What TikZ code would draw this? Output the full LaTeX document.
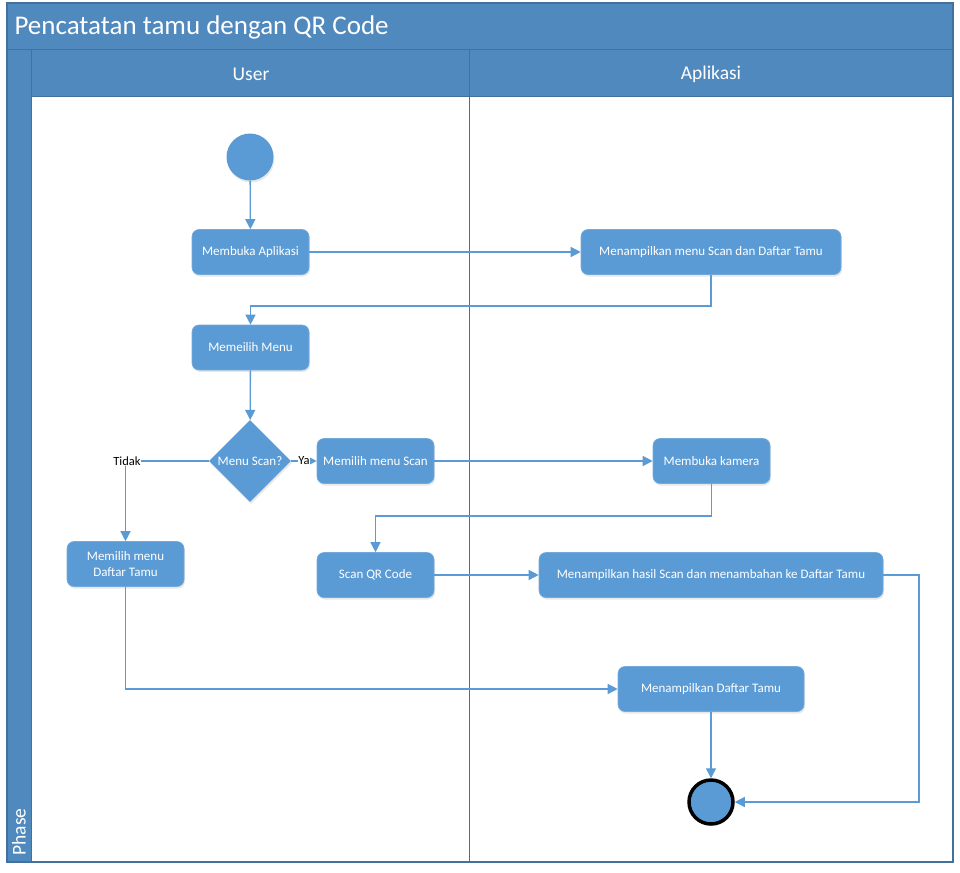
\documentclass[tikz,border=0pt]{standalone}
\usepackage{fontspec}
\setmainfont{Carlito}
\usetikzlibrary{arrows.meta,shapes.geometric,shadows}
\definecolor{hdr}{RGB}{80,137,190}
\definecolor{edge}{RGB}{65,113,156}
\definecolor{nodefill}{RGB}{91,155,213}
\definecolor{conn}{RGB}{91,155,213}
\begin{document}
\begin{tikzpicture}[x=1pt,y=-1pt,
  act/.style={draw=nodefill!85!white, line width=0.6pt, fill=nodefill, rounded corners=7pt, text=white,
     font=\fontsize{13}{15.5}\selectfont, inner sep=0pt, minimum height=45pt,
     drop shadow={opacity=0.18, shadow xshift=1pt, shadow yshift=-2pt}},
  dec/.style={diamond, fill=nodefill, text=white, font=\fontsize{13}{15.5}\selectfont,
     inner sep=0pt, minimum width=82pt, minimum height=82pt,
     drop shadow={opacity=0.18, shadow xshift=1pt, shadow yshift=-2pt}},
  conn/.style={draw=conn, line width=1.3pt, -{Triangle[length=10pt,width=10pt]}},
  lbl/.style={font=\fontsize{12.5}{14.5}\selectfont, text=black, fill=white, inner sep=0.5pt},
  hdrtext/.style={text=white, font=\fontsize{19.5}{22}\selectfont}
]
\useasboundingbox (0,0) rectangle (960,872);
% frame
\fill[white] (7,3) rectangle (953,862);
\fill[hdr] (7,3) rectangle (953,50);
\fill[hdr] (7,50) rectangle (31,862);
\fill[hdr] (31,50) rectangle (953,97);
\draw[edge, line width=1.2pt] (7,3) rectangle (953,862);
\draw[edge, line width=1pt] (7,50) -- (953,50);
\draw[edge, line width=1pt] (31,50) -- (31,862);
\draw[edge, line width=1pt] (31,97) -- (953,97);
\draw[edge, line width=1pt] (469,50) -- (469,862);
\node[text=white, anchor=west, font=\fontsize{27}{30}\selectfont] (title) at (11,27) {Pencatatan tamu dengan QR Code};
\node[hdrtext] (user) at (251,74) {User};
\node[hdrtext] (apl) at (711,74) {Aplikasi};
\node[hdrtext, rotate=90, anchor=west] (phase) at (19,859) {Phase};

% nodes
\node[circle, fill=nodefill, minimum size=47pt, inner sep=0pt,
  drop shadow={opacity=0.18, shadow xshift=1pt, shadow yshift=-2pt}] (start) at (250,157) {};
\node[act, minimum width=117pt] (buka) at (250.5,252) {Membuka Aplikasi};
\node[act, minimum width=260pt] (menu) at (711,252) {Menampilkan menu Scan dan Daftar Tamu};
\node[act, minimum width=117pt] (pilih) at (250.5,347.5) {Memeilih Menu};
\node[dec] (d) at (250,461) {Menu Scan?};
\node[act, minimum width=117pt] (scan) at (375.5,461) {Memilih menu Scan};
\node[act, minimum width=117pt] (kamera) at (711.5,461) {Membuka kamera};
\node[act, minimum width=117pt, align=center] (daftar) at (125.5,564) {Memilih menu\\Daftar Tamu};
\node[act, minimum width=117pt] (qr) at (375.5,575) {Scan QR Code};
\node[act, minimum width=344pt] (hasil) at (711,575) {Menampilkan hasil Scan dan menambahan ke Daftar Tamu};
\node[act, minimum width=186pt] (tampil) at (711,689) {Menampilkan Daftar Tamu};
\node[circle, draw=black, line width=3.5pt, fill=nodefill, minimum size=44pt, inner sep=0pt,
  drop shadow={opacity=0.18, shadow xshift=1pt, shadow yshift=-2pt}] (end) at (711,802) {};

\coordinate (c1) at (711,306);
\coordinate (c2) at (250.5,306);
\coordinate (c3) at (125.5,461);
\coordinate (c4) at (711.5,516);
\coordinate (c5) at (375.5,516);
\coordinate (c6) at (919,575);
\coordinate (c7) at (919,802);
\coordinate (c8) at (125.5,689);

% connectors
\draw[conn] (start) -- (buka);
\draw[conn] (buka) -- (menu);
\draw[conn] (menu.south) -- (c1) -- (c2) -- (pilih.north);
\draw[conn] (pilih) -- (d);
\draw[conn] (d.east) -- (scan.west);
\node[lbl] (ya) at (304,461) {Ya};
\draw[conn] (d.west) -- (c3) -- (daftar.north);
\node[lbl] (tidak) at (127,461) {Tidak};
\draw[conn] (scan) -- (kamera);
\draw[conn] (kamera.south) -- (c4) -- (c5) -- (qr.north);
\draw[conn] (qr) -- (hasil);
\draw[conn] (hasil.east) -- (c6) -- (c7) -- (end.east);
\draw[conn] (daftar.south) -- (c8) -- (tampil.west);
\draw[conn] (tampil) -- (end);
\end{tikzpicture}
\end{document}
